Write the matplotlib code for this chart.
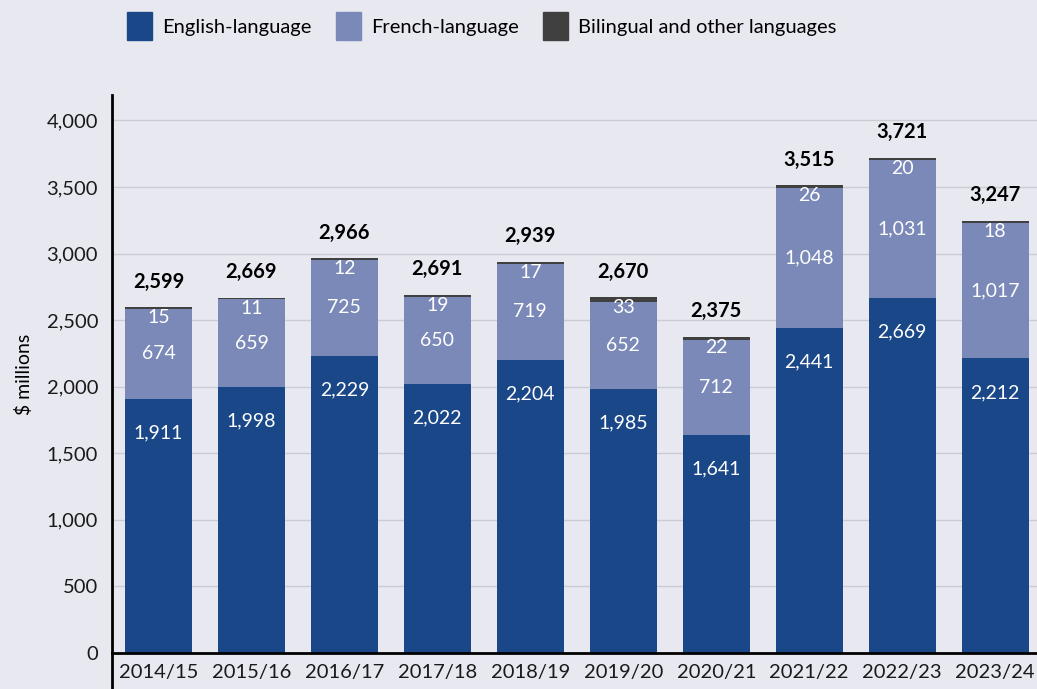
import matplotlib.pyplot as plt
from matplotlib.patches import Patch

years = ['2014/15', '2015/16', '2016/17', '2017/18', '2018/19',
         '2019/20', '2020/21', '2021/22', '2022/23', '2023/24']
english = [1911, 1998, 2229, 2022, 2204, 1985, 1641, 2441, 2669, 2212]
french = [674, 659, 725, 650, 719, 652, 712, 1048, 1031, 1017]
bilingual = [15, 11, 12, 19, 17, 33, 22, 26, 20, 18]
totals = [2599, 2669, 2966, 2691, 2939, 2670, 2375, 3515, 3721, 3247]

bg = '#E8E8F1'
c_en = '#1A4788'
c_fr = '#7B89B8'
c_bi = '#404040'

plt.rcParams['font.family'] = ['Lato', 'DejaVu Sans']

fig = plt.figure(figsize=(10.37, 6.89), dpi=100, facecolor=bg)
ax = fig.add_axes([0.108, 0.0522, 0.892, 0.8098], facecolor=bg)

x = list(range(len(years)))
w = 0.72
bottom_fr = english
bottom_bi = [e + f for e, f in zip(english, french)]

ax.bar(x, english, width=w, color=c_en, zorder=2)
ax.bar(x, french, width=w, bottom=bottom_fr, color=c_fr, zorder=2)
ax.bar(x, bilingual, width=w, bottom=bottom_bi, color=c_bi, zorder=2)

for i in x:
    ax.text(i, english[i] - 255, f'{english[i]:,}', ha='center', va='center',
            color='white', fontsize=14, zorder=3)
    ax.text(i, english[i] + french[i] / 2, f'{french[i]:,}', ha='center', va='center',
            color='white', fontsize=14, zorder=3)
    ax.text(i, totals[i] - 15, f'{bilingual[i]}', ha='center', va='top',
            color='white', fontsize=14, zorder=3)
    ax.text(i, totals[i] + 115, f'{totals[i]:,}', ha='center', va='bottom',
            color='black', fontsize=14.5, fontweight='bold', zorder=3)

ax.set_xlim(-0.5, 9.45)
ax.set_ylim(0, 4190)
ax.set_yticks(range(0, 4001, 500))
ax.set_yticklabels([f'{v:,}' for v in range(0, 4001, 500)])
ax.set_xticks(x)
ax.set_xticklabels(years)
ax.tick_params(axis='both', length=0, labelsize=14.5, colors='#1a1a1a')
ax.tick_params(axis='x', pad=8)
ax.tick_params(axis='y', pad=10)
ax.grid(axis='y', color='#CBCBD4', linewidth=1, zorder=0)

for s in ['top', 'right']:
    ax.spines[s].set_visible(False)
ax.spines['left'].set_linewidth(2)
ax.spines['bottom'].set_linewidth(2)
ax.plot([0, 0], [0, -0.08], transform=ax.transAxes, color='black',
        linewidth=2, clip_on=False)

ax.set_ylabel('$ millions', fontsize=14, labelpad=10)

handles = [Patch(color=c_en, label='English-language'),
           Patch(color=c_fr, label='French-language'),
           Patch(color=c_bi, label='Bilingual and other languages')]
fig.legend(handles=handles, loc='upper left', bbox_to_anchor=(0.1225, 0.982),
           ncol=3, frameon=False, fontsize=14.5, handlelength=1.24,
           handleheight=1.7, columnspacing=1.2, handletextpad=0.5,
           borderpad=0, borderaxespad=0)

fig.savefig('out.png', dpi=100, facecolor=bg)
